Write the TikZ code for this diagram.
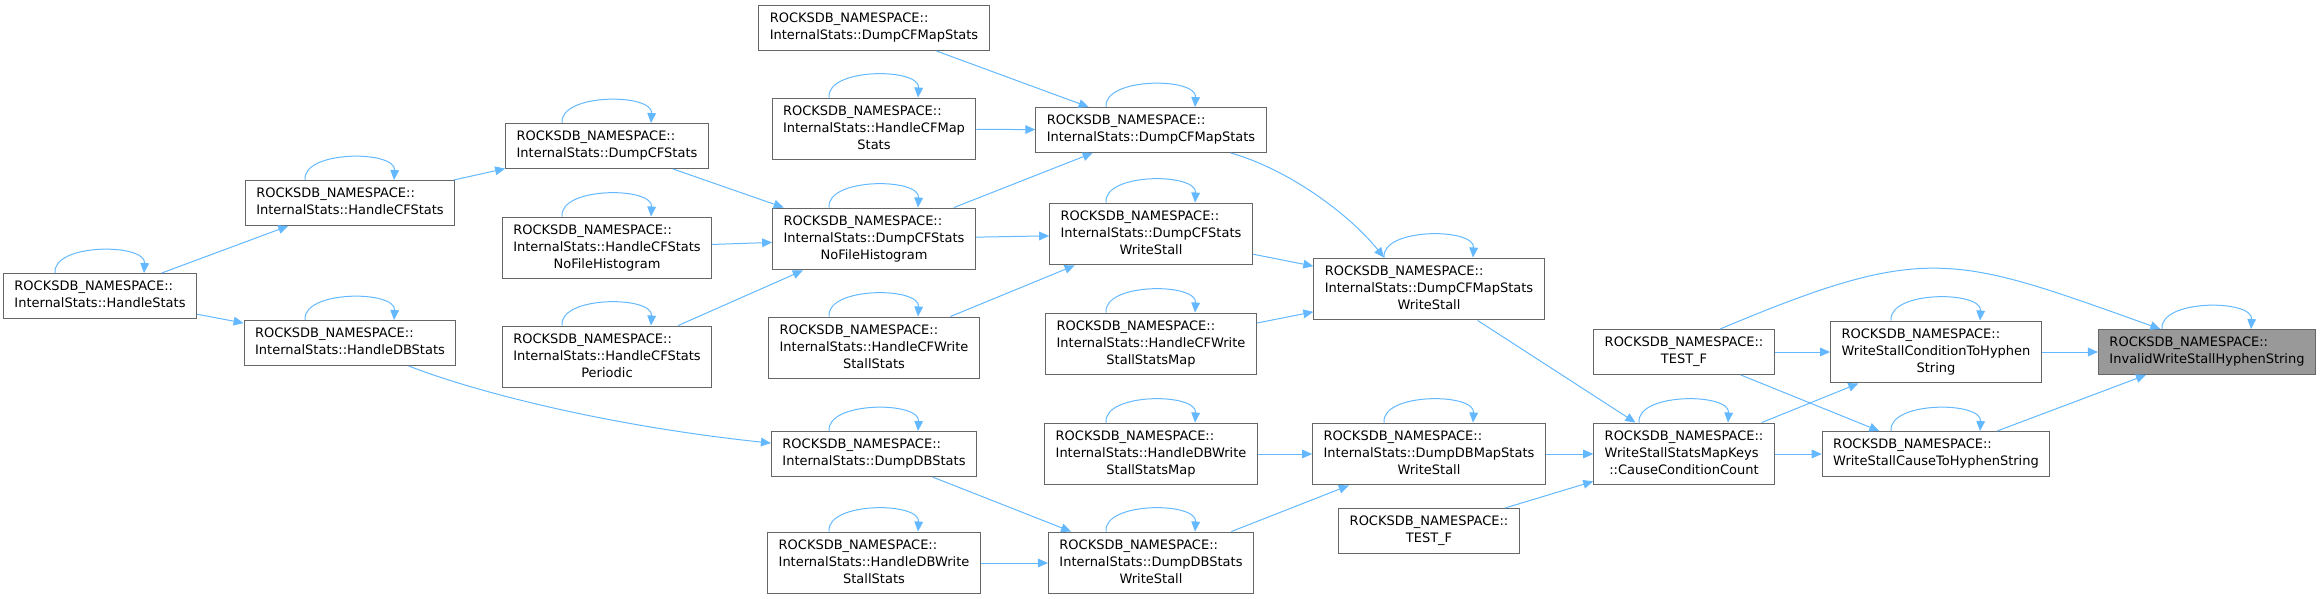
\documentclass[tikz,border=0pt]{standalone}
\usepackage{fontspec}
\setmainfont{DejaVu Sans}
\usetikzlibrary{arrows.meta}

\definecolor{edgeblue}{HTML}{63B8FF}
\definecolor{boxgray}{HTML}{666666}
\definecolor{hlgray}{HTML}{999999}

% lignes à gauche, dernière ligne centrée
\newcommand{\fname}[2]{\begin{tabular}{@{}l@{}}#1\\\multicolumn{1}{@{}c@{}}{#2}\end{tabular}}

\begin{document}
\begin{tikzpicture}[
    x=0.75pt, y=-0.75pt,
    font=\fontsize{9.75}{12.75}\selectfont,
    fnbox/.style={draw=boxgray, fill=white, line width=0.75pt, inner xsep=8.25pt, inner ysep=4.1pt},
    hlbox/.style={fnbox, fill=hlgray},
    arrow/.style={-{Triangle[length=7.5pt, width=6.5pt]}, draw=edgeblue, line width=0.75pt}
]
    \useasboundingbox (0,0) rectangle (2321,599);

    % Colonne 1 et 2
    \node[fnbox] (hstats) at (100, 296) {\fname{ROCKSDB\_NAMESPACE::}{InternalStats::HandleStats}};
    \node[fnbox] (hcfstats) at (350, 203) {\fname{ROCKSDB\_NAMESPACE::}{InternalStats::HandleCFStats}};
    \node[fnbox] (hdbstats) at (350, 343) {\fname{ROCKSDB\_NAMESPACE::}{InternalStats::HandleDBStats}};

    % Colonne 3
    \node[fnbox] (dcfstats) at (607, 146) {\fname{ROCKSDB\_NAMESPACE::}{InternalStats::DumpCFStats}};
    \node[fnbox] (hcfnofile) at (607, 248) {\fname{ROCKSDB\_NAMESPACE::\\InternalStats::HandleCFStats}{NoFileHistogram}};
    \node[fnbox] (hcfperiodic) at (607, 357) {\fname{ROCKSDB\_NAMESPACE::\\InternalStats::HandleCFStats}{Periodic}};

    % Colonne 4
    \node[fnbox] (dcfmaptop) at (874, 28) {\fname{ROCKSDB\_NAMESPACE::}{InternalStats::DumpCFMapStats}};
    \node[fnbox] (hcfmap) at (874, 129) {\fname{ROCKSDB\_NAMESPACE::\\InternalStats::HandleCFMap}{Stats}};
    \node[fnbox] (dcfnofile) at (874, 239) {\fname{ROCKSDB\_NAMESPACE::\\InternalStats::DumpCFStats}{NoFileHistogram}};
    \node[fnbox] (hcfwss) at (874, 348) {\fname{ROCKSDB\_NAMESPACE::\\InternalStats::HandleCFWrite}{StallStats}};
    \node[fnbox] (ddbstats) at (874, 454) {\fname{ROCKSDB\_NAMESPACE::}{InternalStats::DumpDBStats}};
    \node[fnbox] (hdbwss) at (874, 563) {\fname{ROCKSDB\_NAMESPACE::\\InternalStats::HandleDBWrite}{StallStats}};

    % Colonne 5
    \node[fnbox] (dcfmap) at (1151, 130) {\fname{ROCKSDB\_NAMESPACE::}{InternalStats::DumpCFMapStats}};
    \node[fnbox] (dcfws) at (1151, 234) {\fname{ROCKSDB\_NAMESPACE::\\InternalStats::DumpCFStats}{WriteStall}};
    \node[fnbox] (hcfwssmap) at (1151, 344) {\fname{ROCKSDB\_NAMESPACE::\\InternalStats::HandleCFWrite}{StallStatsMap}};
    \node[fnbox] (hdbwssmap) at (1151, 454) {\fname{ROCKSDB\_NAMESPACE::\\InternalStats::HandleDBWrite}{StallStatsMap}};
    \node[fnbox] (ddbws) at (1151, 563) {\fname{ROCKSDB\_NAMESPACE::\\InternalStats::DumpDBStats}{WriteStall}};

    % Colonne 6
    \node[fnbox] (dcfmapws) at (1429, 289) {\fname{ROCKSDB\_NAMESPACE::\\InternalStats::DumpCFMapStats}{WriteStall}};
    \node[fnbox] (ddbmapws) at (1429, 454) {\fname{ROCKSDB\_NAMESPACE::\\InternalStats::DumpDBMapStats}{WriteStall}};
    \node[fnbox] (testb) at (1429, 531) {\fname{ROCKSDB\_NAMESPACE::}{TEST\_F}};

    % Colonnes 7 à 9
    \node[fnbox] (testa) at (1684, 352) {\fname{ROCKSDB\_NAMESPACE::}{TEST\_F}};
    \node[fnbox] (ccc) at (1684, 454) {\fname{ROCKSDB\_NAMESPACE::\\WriteStallStatsMapKeys}{::CauseConditionCount}};
    \node[fnbox] (condhyph) at (1936, 352) {\fname{ROCKSDB\_NAMESPACE::\\WriteStallConditionToHyphen}{String}};
    \node[fnbox] (causehyph) at (1936, 454) {\fname{ROCKSDB\_NAMESPACE::}{WriteStallCauseToHyphenString}};
    \node[hlbox] (invalid) at (2207, 352) {\fname{ROCKSDB\_NAMESPACE::}{InvalidWriteStallHyphenString}};

    % Appels récursifs
    \foreach \n in {hstats, hcfstats, hdbstats, dcfstats, hcfnofile, hcfperiodic, hcfmap, dcfnofile,
                    hcfwss, ddbstats, hdbwss, dcfmap, dcfws, hcfwssmap, hdbwssmap, ddbws,
                    dcfmapws, ddbmapws, ccc, condhyph, causehyph, invalid}
        \draw[arrow] ([xshift=-33.75pt]\n.north) .. controls +(-2pt,22.5pt) and +(1.5pt,22.5pt) .. ([xshift=33pt]\n.north);

    % Appels entre fonctions
    \draw[arrow] (hstats) -- (hcfstats);
    \draw[arrow] (hstats) -- (hdbstats);
    \draw[arrow] (hcfstats) -- (dcfstats);
    \draw[arrow] (hdbstats) .. controls (470,390) and (600,425) .. (ddbstats);
    \draw[arrow] (dcfstats) -- (dcfnofile);
    \draw[arrow] (hcfnofile) -- (dcfnofile);
    \draw[arrow] (hcfperiodic) -- (dcfnofile);
    \draw[arrow] (dcfmaptop) -- (dcfmap);
    \draw[arrow] (hcfmap) -- (dcfmap);
    \draw[arrow] (dcfnofile) -- (dcfmap);
    \draw[arrow] (dcfnofile) -- (dcfws);
    \draw[arrow] (hcfwss) -- (dcfws);
    \draw[arrow] (dcfmap) .. controls (1290,170) and (1350,215) .. ([xshift=-33.75pt]dcfmapws.north);
    \draw[arrow] (dcfws) -- (dcfmapws);
    \draw[arrow] (hcfwssmap) -- (dcfmapws);
    \draw[arrow] (ddbstats) -- (ddbws);
    \draw[arrow] (hdbwss) -- (ddbws);
    \draw[arrow] (hdbwssmap) -- (ddbmapws);
    \draw[arrow] (ddbws) -- (ddbmapws);
    \draw[arrow] (dcfmapws) -- (ccc);
    \draw[arrow] (ddbmapws) -- (ccc);
    \draw[arrow] (testb) -- (ccc);
    \draw[arrow] (ccc) -- (condhyph);
    \draw[arrow] (ccc) -- (causehyph);
    \draw[arrow] (testa) -- (condhyph);
    \draw[arrow] (testa) -- (causehyph);
    \draw[arrow] ([xshift=27pt]testa.north) .. controls (1927,242) and (1953,255) .. ([xshift=-35pt]invalid.north);
    \draw[arrow] (condhyph) -- (invalid);
    \draw[arrow] (causehyph) -- (invalid);

\end{tikzpicture}
\end{document}
